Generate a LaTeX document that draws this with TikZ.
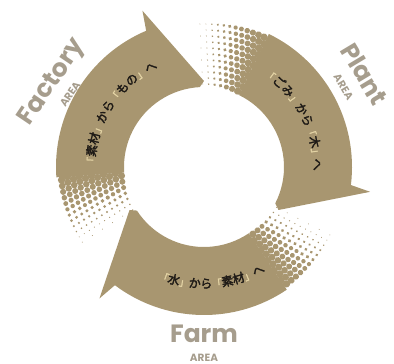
\documentclass[tikz,border=0pt]{standalone}
\usepackage{fontspec}
\usetikzlibrary{decorations.text}
\newfontfamily\jpfont{Noto Sans CJK JP}[AutoFakeBold=2.5]
\newfontfamily\lblfont{Poppins}
\definecolor{bandtan}{RGB}{168,150,112}
\definecolor{lblgrey}{RGB}{166,157,141}
\definecolor{jpink}{RGB}{30,26,22}
\definecolor{brkcol}{RGB}{228,212,165}
\newcommand{\brk}{\jpfont\bfseries\fontsize{10}{10}\selectfont\color{brkcol}}
\newcommand{\jtx}{\jpfont\bfseries\fontsize{12}{12}\selectfont\color{jpink}}
\newcommand{\areatxt}{\fontsize{10.5}{10.5}\selectfont}

\tikzset{
  areatag/.style={font=\lblfont\bfseries\fontsize{25}{24}\selectfont,
    text=lblgrey, align=center, inner sep=0pt},
  arctext/.style={decorate, decoration={text along path, text align=center, text={#1}}},
}

\begin{document}
\begin{tikzpicture}
  \useasboundingbox (-204pt,-197pt) rectangle (190pt,167pt);
  % the three arrows, one turned 120 degrees from the next
  \foreach \rot in {0,-120,120} {
    \begin{scope}[rotate=\rot]
      \fill[bandtan] (184:80pt) -- (184:148pt)
        arc[start angle=184, end angle=113, radius=148pt]
        -- (111.5:168pt) -- (90:86pt) -- (93:80pt)
        arc[start angle=93, end angle=184, radius=80pt] -- cycle;
      % halftone tail
      \foreach \r [count=\i] in {83,89,...,143} {
        \pgfmathsetmacro\da{343.8/\r}
        \pgfmathtruncatemacro\n{27/\da}
        \foreach \k in {0,...,\n} {
          \pgfmathsetmacro\a{184+(\k+0.5*mod(\i,2))*\da}
          \pgfmathsetmacro\s{max(0.5,3.9-3.5*(\a-184)/26)}
          \fill[bandtan] (\a:\r pt) circle (\s pt);
        }
      }
    \end{scope}
  }
  % texts on the arrows
  \path[arctext={|\brk|「|\jtx|素材|\brk|」|\jtx|から|\brk|「|\jtx|もの|\brk|」|\jtx|へ}]
    (186:109pt) arc[start angle=186, end angle=109, radius=109pt];
  \path[arctext={|\brk|「|\jtx|ごみ|\brk|」|\jtx|から|\brk|「|\jtx|木|\brk|」|\jtx|へ}]
    (66:109pt) arc[start angle=66, end angle=-11, radius=109pt];
  \path[arctext={|\brk|「|\jtx|水|\brk|」|\jtx|から|\brk|「|\jtx|素材|\brk|」|\jtx|へ}]
    (-124:121pt) arc[start angle=-124, end angle=-48, radius=121pt];
  % area names
  \node[areatag, rotate=56] (factory) at (151:167pt) {Factory\\[-5pt]{\areatxt AREA}};
  \node[areatag, rotate=-59] (plant) at (30:176pt) {Plant\\[-5pt]{\areatxt AREA}};
  \node[areatag] (farm) at (-90:176pt) {Farm\\[-5pt]{\areatxt AREA}};
\end{tikzpicture}
\end{document}
